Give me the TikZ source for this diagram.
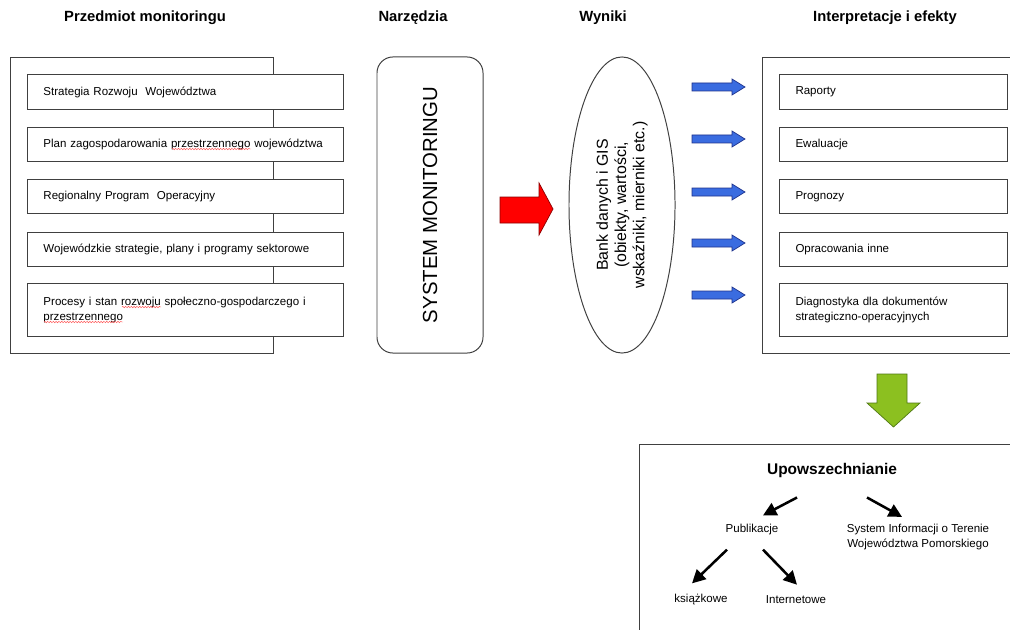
\documentclass[tikz,border=0pt]{standalone}
\usepackage{fontspec}
\setmainfont{Liberation Sans}
\usetikzlibrary{calc,positioning,shapes.geometric,arrows.meta,decorations.pathmorphing}

\definecolor{arrred}{RGB}{255,0,0}
\definecolor{arrredline}{RGB}{140,0,0}
\definecolor{arrblue}{RGB}{58,108,224}
\definecolor{arrblueline}{RGB}{30,50,140}
\definecolor{arrgreen}{RGB}{140,192,32}
\definecolor{arrgreenline}{RGB}{80,120,20}

\tikzset{
  head/.style={font=\bfseries\fontsize{10.5}{12}\selectfont},
  frame/.style={draw=black!75, line width=0.7pt},
  item/.style={frame, fill=white, anchor=north west, inner xsep=0.4cm,
    inner ysep=0pt, align=left, font=\fontsize{8.2}{10.6}\selectfont},
  lhs/.style={item, text width=7.1cm},
  rhs/.style={item, text width=4.9cm},
  small/.style={inner sep=0pt, align=center, font=\fontsize{8.2}{10.6}\selectfont},
  blk/.style={line width=1.8pt, -{Triangle[length=9.5pt,width=9.5pt]}},
  spell/.style={draw=red!65, line width=0.35pt, decorate,
    decoration={snake, amplitude=0.5pt, segment length=2pt}},
  bluearr/.pic={
    \filldraw[fill=arrblue, draw=arrblueline, line width=0.5pt]
      (0,-4) -- (40,-4) -- (40,-8) -- (53,0) -- (40,8) -- (40,4) -- (0,4) -- cycle;
  },
}

\begin{document}
\begin{tikzpicture}[x=0.025cm,y=-0.025cm]
\useasboundingbox (0,0) rectangle (1010,630);

% column titles
\node[head] (h1) at (145,18) {Przedmiot monitoringu};
\node[head] (h2) at (413,18) {Narzędzia};
\node[head] (h3) at (603,18) {Wyniki};
\node[head] (h4) at (885,18) {Interpretacje i efekty};

% subject of monitoring
\draw[frame] (10,57) rectangle (273,353);
\foreach \y/\h/\txt [count=\i] in {
    74/0.875/{Strategia Rozwoju\ \ Województwa},
    127/0.85/{Plan zagospodarowania przestrzennego województwa},
    179/0.85/{Regionalny Program\ \ Operacyjny},
    232/0.85/{Wojewódzkie strategie, plany i programy sektorowe},
    283/1.325/{Procesy i stan rozwoju społeczno-gospodarczego i\\przestrzennego}}
  \node[lhs, minimum height=\h cm] (src\i) at (27,\y) {\txt};
% spell-check waves
\draw[spell] (172,149) -- (251,149);
\draw[spell] (122,307) -- (161,307);
\draw[spell] (44,322) -- (123,322);

% tools
\node[frame, rounded corners=0.4cm, rotate=90, minimum width=7.4cm,
  minimum height=2.65cm, font=\fontsize{14.5}{16}\selectfont] (sys) at (430,205)
  {SYSTEM MONITORINGU};

\filldraw[fill=arrred, draw=arrredline, line width=0.5pt]
  (500,197) -- (539,197) -- (539,183) -- (553,209) -- (539,235) -- (539,223)
  -- (500,223) -- cycle;

% results
\node[frame, ellipse, rotate=90, minimum width=7.4cm, minimum height=2.65cm,
  inner sep=0pt, align=center, font=\fontsize{11.3}{13}\selectfont] (bank)
  at (622,205) {Bank danych i GIS\\(obiekty, wartości,\\wskaźniki, mierniki etc.)};

\foreach \y in {87,139,192,243,295}
  \pic at (692,\y) {bluearr};

% interpretation and effects
\draw[frame] (1010,57) -| (762,353) -- (1010,353);
\foreach \y/\h/\txt [count=\i] in {
    74/0.875/Raporty,
    127/0.85/Ewaluacje,
    179/0.85/Prognozy,
    232/0.85/Opracowania inne,
    283/1.325/{Diagnostyka dla dokumentów\\strategiczno-operacyjnych}}
  \node[rhs, minimum height=\h cm] (out\i) at (779,\y) {\txt};

\filldraw[fill=arrgreen, draw=arrgreenline, line width=0.5pt]
  (877,374) -- (907,374) -- (907,403) -- (920,403) -- (893.5,427) -- (867,403)
  -- (877,403) -- cycle;

% dissemination
\draw[frame] (1010,444) -| (639,630);
\node[inner sep=0pt, font=\bfseries\fontsize{11}{13}\selectfont] (up) at (832,470)
  {Upowszechnianie};
\node[small] (pub) at (752,530) {Publikacje};
\node[small] (sit) at (918,537) {System Informacji o Terenie\\Województwa Pomorskiego};
\node[small] (ksi) at (701,600) {książkowe};
\node[small] (int) at (796,600) {Internetowe};

\draw[blk] ($(up.south)+(-35,20)$) -- ($(pub.north)+(11,-9)$);
\draw[blk] ($(up.south)+(35,20)$) -- ($(sit.north)+(-16,-7)$);
\draw[blk] ($(pub.south)+(-25,14)$) -- ($(ksi.north)+(-9,-11)$);
\draw[blk] ($(pub.south)+(11,14)$) -- ($(int.north)+(1,-11)$);
\end{tikzpicture}
\end{document}
